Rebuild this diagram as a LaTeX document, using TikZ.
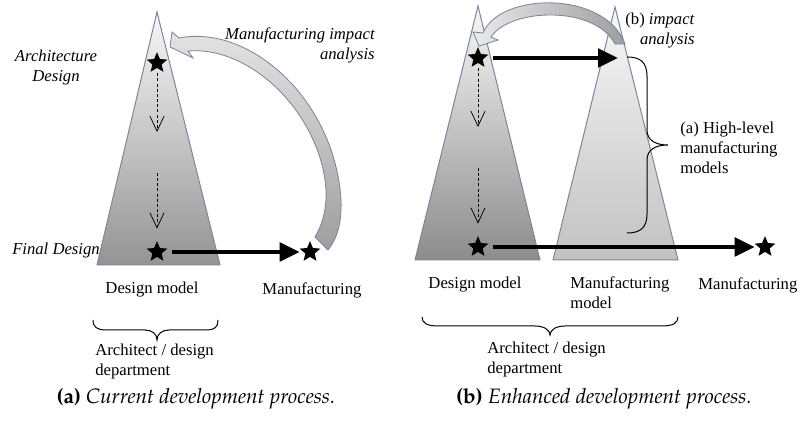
\documentclass[tikz,border=0pt]{standalone}
\usepackage{fontspec}
\setmainfont{Liberation Serif}
\usetikzlibrary{arrows.meta,shapes.geometric}

\definecolor{coneedge}{RGB}{122,134,160}

\begin{document}
\begin{tikzpicture}[x=0.6pt,y=-0.6pt,
    lbl/.style={inner sep=0pt, font=\fontsize{10}{12}\selectfont},
    ilbl/.style={inner sep=0pt, font=\fontsize{10}{12}\selectfont\itshape},
    caplbl/.style={inner sep=0pt, font=\fontsize{12.5}{14}\usefont{OT1}{ppl}{m}{it}},
    starnode/.style={star, star points=5, star point ratio=2.2, fill=black, inner sep=0pt, minimum size=13pt},
    flow/.style={dash pattern=on 1.8pt off 1.3pt, line width=0.45pt, -{Straight Barb[length=9pt,width=8.5pt]}},
    bigarrow/.style={line width=2.4pt, -{Triangle[length=12pt,width=11pt]}},
    cbrace/.style={line width=0.6pt},
    cone/.style={draw=coneedge, line width=0.6pt}]

\def\ytop{63}
\def\ybotl{252}
\def\ybotr{247}

\useasboundingbox (0,0) rectangle (798,423);

% (a) current process
\shade[cone, top color=black!3, bottom color=black!42] (157,12) -- (220,265) -- (97,265) -- cycle;

\node[starnode] (a1) at (157,\ytop) {};
\node[starnode] (f1) at (157,\ybotl) {};
\node[starnode] (m1) at (310,\ybotl) {};
\coordinate (d1) at (157,132);
\coordinate (u1) at (157,173);

\draw[flow, shorten <=3pt] (a1) -- (d1);
\draw[flow, shorten >=7pt] (u1) -- (f1);
\draw[bigarrow, shorten <=5pt, shorten >=2pt] (f1) -- (m1);

\shade[draw=coneedge, line width=0.5pt, top color=black!10, bottom color=black!38]
    (170,47) -- (172,32) -- (179,38)
    .. controls (250,24) and (335,100) .. (341,200)
    .. controls (342,225) and (336,240) .. (328,250)
    -- (315,237)
    .. controls (325,220) and (328,200) .. (325,180)
    .. controls (315,110) and (250,46) .. (188,51)
    -- (193,58) -- cycle;

\node[ilbl, align=center] (archlbl) at (56,67) {Architecture\\Design};
\node[ilbl] (finlbl) at (56,250) {Final Design};
\node[ilbl, align=right, anchor=east] (implbl) at (375,45) {Manufacturing impact\\analysis};
\node[lbl] (dmlbl1) at (152,290) {Design model};
\node[lbl] (mflbl1) at (312,290) {Manufacturing};

% brace under the design model
\draw[cbrace] (93,320) .. controls (93,327) and (97,330) .. (106,330) -- (145,330)
    .. controls (152,330) and (157,334) .. (157,340)
    .. controls (157,334) and (162,330) .. (169,330) -- (206,330)
    .. controls (215,330) and (218,327) .. (218,320);
\node[lbl, align=left, anchor=west] (dep1) at (95,361) {Architect / design\\department};

% (b) enhanced process
\shade[cone, top color=black!3, bottom color=black!45] (478,6) -- (540,260) -- (415,260) -- cycle;
\shade[cone, top color=black!3, bottom color=black!24] (615,7) -- (678,260) -- (553,260) -- cycle;

\node[starnode] (a2) at (478,\ytop-5) {};
\node[starnode] (f2) at (478,\ybotr) {};
\node[starnode] (m2) at (765,\ybotr) {};
\coordinate (d2) at (478,127);
\coordinate (u2) at (478,168);
\coordinate (mm2) at (618,58);

\draw[flow, shorten <=3pt] (a2) -- (d2);
\draw[flow, shorten >=7pt] (u2) -- (f2);
\draw[bigarrow, shorten <=5pt] (a2) -- (mm2);
\draw[bigarrow, shorten <=5pt, shorten >=2pt] (f2) -- (m2);

\shade[draw=coneedge, line width=0.5pt, left color=black!8, right color=black!38]
    (479,46) -- (473,32) -- (483,33)
    .. controls (500,-8) and (605,-10) .. (625,44)
    -- (615,44)
    .. controls (595,5) and (510,8) .. (491,37)
    -- (498,40) -- cycle;

% brace beside the manufacturing model
\draw[cbrace] (627,57) .. controls (640,57) and (647,62) .. (647,76) -- (647,130)
    .. controls (647,140) and (655,145) .. (668,145)
    .. controls (655,145) and (647,150) .. (647,160) -- (647,214)
    .. controls (647,228) and (640,233) .. (627,233);
\node[lbl, align=left, anchor=west] (hllbl) at (680,148) {(a) High-level\\manufacturing\\models};
\node[lbl, align=right, anchor=east] (implbl2) at (695,31) {(b) \textit{impact}\\\textit{analysis}};

\node[lbl] (dmlbl2) at (475,285) {Design model};
\node[lbl, align=left, anchor=west] (mmlbl) at (570,293) {Manufacturing\\model};
\node[lbl, anchor=west] (mflbl2) at (698,285) {Manufacturing};

% brace under both models
\draw[cbrace] (422,317) .. controls (422,323) and (427,326) .. (438,326) -- (535,326)
    .. controls (544,326) and (550,330) .. (550,335)
    .. controls (550,330) and (556,326) .. (565,326) -- (662,326)
    .. controls (673,326) and (678,323) .. (678,317);
\node[lbl, align=left, anchor=west] (dep2) at (487,359) {Architect / design\\department};

% captions
\node[caplbl] (capa) at (196,399) {{\usefont{OT1}{ppl}{b}{n}(a)} Current development process.};
\node[caplbl] (capb) at (604,399) {{\usefont{OT1}{ppl}{b}{n}(b)} Enhanced development process.};

\end{tikzpicture}
\end{document}
